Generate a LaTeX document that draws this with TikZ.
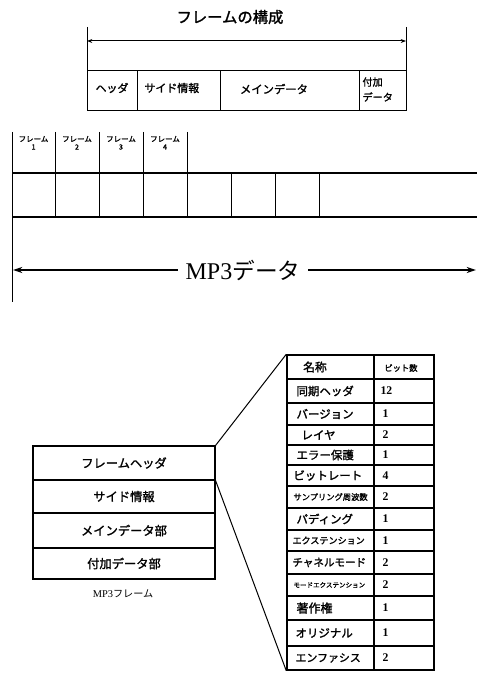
\documentclass[tikz,border=0pt]{standalone}
\usepackage{fontspec}
\setmainfont{Liberation Serif}
\newfontfamily\jp[FakeBold=1.6]{Noto Sans CJK JP}
\newfontfamily\jpl{Noto Sans CJK JP}
\usetikzlibrary{arrows.meta}
\newcommand\fsz[1]{\fontsize{#1}{#1}\selectfont}
\tikzset{smalltip/.tip={Stealth[length=4pt,width=3pt]},
  bigtip/.tip={Stealth[length=7pt,width=4.5pt]}}
\begin{document}
\begin{tikzpicture}[x=0.75pt,y=-0.75pt,line width=0.75pt,
  txt/.style={inner sep=0pt},
  lft/.style={inner sep=0pt,anchor=west},
  rowbox/.style={draw,line width=0.9pt,minimum width=136.5pt,inner sep=0pt,font=\jp\fsz{9.2pt}},
  tabline/.style={line width=0.8pt},
  tabtxt/.style={inner sep=0pt,anchor=west,font=\jp\fsz{8.6pt}},
  bittxt/.style={inner sep=0pt,anchor=west,font=\bfseries\fsz{8.8pt}}]
\useasboundingbox (0,0) rectangle (477,673);

% ---------- top: frame structure ----------
\node[txt,font=\jp\fsz{11.5pt}] (title) at (230,17) {フレームの構成};
\coordinate (tl) at (87,27);
\coordinate (tr) at (406,27);
\coordinate (bl) at (87,111);
\coordinate (br) at (406,111);
\draw (tl) -- (bl);
\draw (tr) -- (br);
\coordinate (al) at (87,41);
\coordinate (ar) at (406,41);
\draw[smalltip-smalltip] (al) -- (ar);
\draw (87,71) rectangle (406,111);
\draw (137,71) -- (137,111);
\draw (220,71) -- (220,111);
\draw (359,71) -- (359,111);
\node[txt,font=\jp\fsz{8.2pt}] (hd) at (112,88) {ヘッダ};
\node[lft,font=\jp\fsz{8.2pt}] (sd) at (144,88) {サイド情報};
\node[txt,font=\jp\fsz{8.5pt}] (md) at (274,89) {メインデータ};
\node[lft,font=\jp\fsz{7.6pt}] (ad1) at (362,82) {付加};
\node[lft,font=\jp\fsz{7.6pt}] (ad2) at (362,97) {データ};

% ---------- middle: MP3 data ----------
\draw (12,132) -- (12,302);
\foreach \x in {55,99,143,187} \draw (\x,132) -- (\x,217);
\foreach \x in {231,275,319} \draw (\x,173) -- (\x,217);
\draw[line width=1pt] (12,173) -- (477,173);
\draw[line width=1pt] (12,217) -- (477,217);
\foreach \x/\n in {33.5/1,77/2,121/3,165/4}{
  \node[txt,font=\jp\fsz{5.6pt}] (f\n) at (\x,139) {フレーム};
  \node[txt,font=\jp\fsz{5.4pt}] (fn\n) at (\x,147) {\n};
}
\node[inner xsep=5.5pt,inner ysep=0pt] (mp3) at (243,270) {\fsz{18pt}MP3\jpl\fsz{17pt}データ};
\coordinate (mL) at (13,270);
\coordinate (mR) at (476,270);
\draw[line width=1pt,-bigtip] (mp3.west) -- (mL);
\draw[line width=1pt,-bigtip] (mp3.east) -- (mR);

% ---------- bottom left: MP3 frame ----------
\node[rowbox,minimum height=25.5pt] (fh) at (124,463) {フレームヘッダ};
\node[rowbox,minimum height=24.75pt] (si) at (124,496.5) {サイド情報};
\node[rowbox,minimum height=26.25pt] (mdp) at (124,530.5) {メインデータ部};
\node[rowbox,minimum height=23.25pt] (adp) at (124,563.5) {付加データ部};
\node[txt] (cap) at (123,594) {\fsz{7.8pt}MP3\jpl\fsz{7.6pt}フレーム};

% ---------- bottom right: header table ----------
\node[draw,line width=1.1pt,minimum width=110.25pt,minimum height=236.25pt,inner sep=0pt] (tab) at (360.5,512.5) {};
\draw[tabline] (374,355) -- (374,670);
\foreach \y in {379,403,425,445,465,486,508,530,551,574,596,620,646}
  \draw[tabline] (287,\y) -- (434,\y);
\node[txt,font=\jp\fsz{8.8pt}] (h1) at (315,367) {名称};
\node[txt,font=\jp\fsz{6.2pt}] (h2) at (401,368) {ビット数};

\node[tabtxt] (n1) at (296,391) {同期ヘッダ};
\node[tabtxt] (n2) at (296,414) {バージョン};
\node[tabtxt] (n3) at (301,435) {レイヤ};
\node[tabtxt] (n4) at (296,455) {エラー保護};
\node[tabtxt] (n5) at (293,475.5) {ビットレート};
\node[tabtxt,font=\jp\fsz{6.2pt}] (n6) at (293,497) {サンプリング周波数};
\node[tabtxt] (n7) at (296,519) {パディング};
\node[tabtxt,font=\jp\fsz{6.8pt}] (n8) at (292,540.5) {エクステンション};
\node[tabtxt,font=\jp\fsz{7.9pt}] (n9) at (292,562.5) {チャネルモード};
\node[tabtxt,font=\jp\fsz{4.9pt}] (n10) at (293,585) {モードエクステンション};
\node[tabtxt,font=\jp\fsz{9pt}] (n11) at (296,608) {著作権};
\node[tabtxt] (n12) at (295,633) {オリジナル};
\node[tabtxt,font=\jp\fsz{8.2pt}] (n13) at (295,658) {エンファシス};

\node[bittxt] (b1) at (380,391) {12};
\node[bittxt] (b2) at (382,414) {1};
\node[bittxt] (b3) at (382,435) {2};
\node[bittxt] (b4) at (382,455) {1};
\node[bittxt] (b5) at (382,475.5) {4};
\node[bittxt] (b6) at (382,497) {2};
\node[bittxt] (b7) at (382,519) {1};
\node[bittxt] (b8) at (382,540.5) {1};
\node[bittxt] (b9) at (382,562.5) {2};
\node[bittxt] (b10) at (382,585) {2};
\node[bittxt] (b11) at (382,608) {1};
\node[bittxt] (b12) at (382,633) {1};
\node[bittxt] (b13) at (382,658) {2};

% ---------- connectors ----------
\draw (fh.north east) -- (tab.north west);
\draw (fh.south east) -- (tab.south west);
\end{tikzpicture}
\end{document}
